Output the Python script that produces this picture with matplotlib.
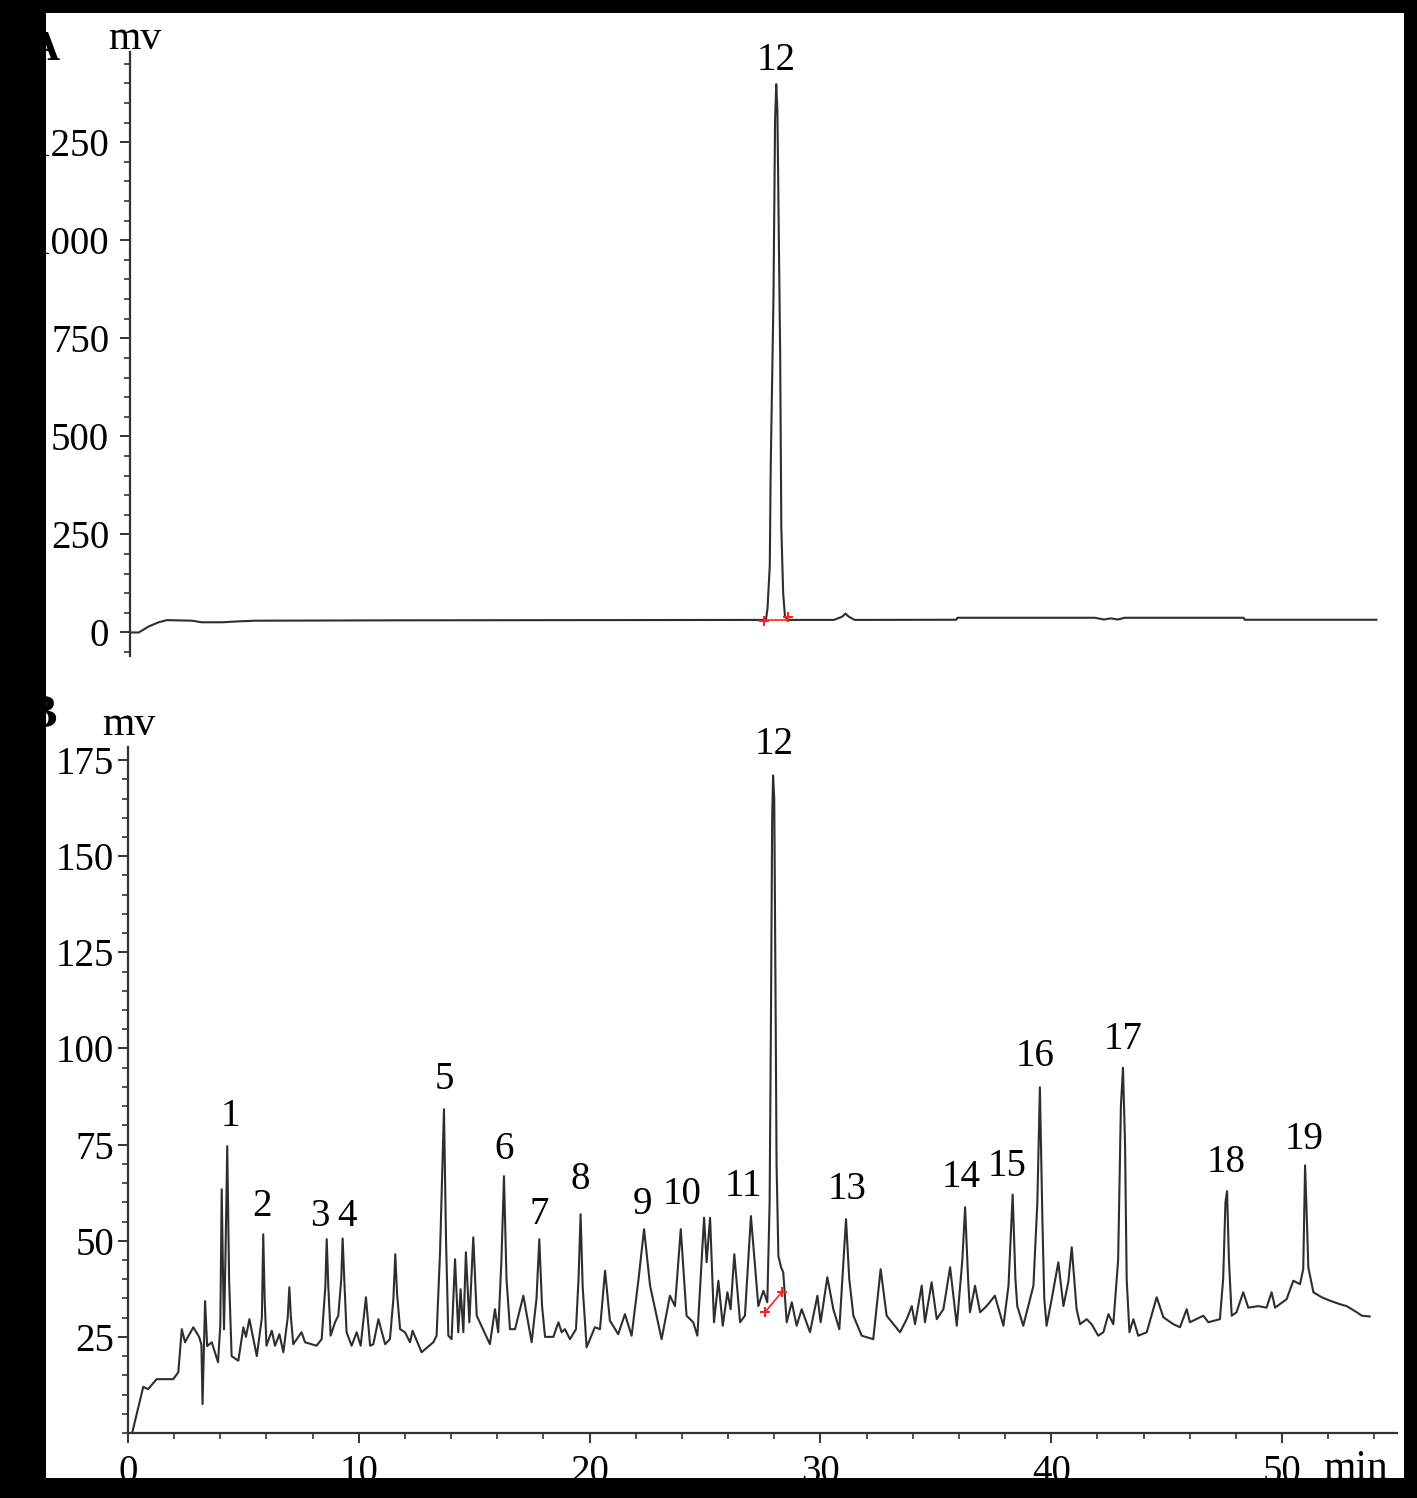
import matplotlib
matplotlib.use('agg')
import matplotlib.pyplot as plt
from matplotlib.patches import Rectangle
from matplotlib.ticker import MultipleLocator

# Chromatogram A (standard), time in min and signal in mV
trace_a_time = [0.0, 0.38, 0.8, 1.24, 1.6, 2.69, 3.1, 4.0, 4.6, 5.4, 11.8,
                27.55, 27.62, 27.72, 27.76, 27.88, 27.95, 28.0, 28.05, 28.17,
                28.22, 28.3, 28.38, 28.5, 30.5, 30.85, 31.0, 31.15, 31.4,
                35.8, 35.85, 41.8, 42.2, 42.5, 42.8, 43.1, 48.25, 48.3, 54.0]
trace_a_mv = [0, 0, 15, 26, 31.5, 30, 26, 26, 28, 30, 31,
              32, 60, 170, 418, 853, 1309, 1398, 1330, 711,
              268, 100, 40, 32, 32, 40, 48, 40, 32,
              32.4, 37.5, 37.5, 33, 36, 33, 37.5, 37.5, 32.4, 32.4]

# Chromatogram B (sample)
trace_b_time = [0.2, 0.66, 0.87, 1.24, 1.96, 2.18, 2.33, 2.47, 2.83, 3.08, 3.18,
                3.23, 3.34, 3.43, 3.63, 3.9, 4.0, 4.06, 4.12, 4.16, 4.22, 4.3,
                4.38, 4.49, 4.78, 5.0, 5.11, 5.26, 5.58, 5.8, 5.86, 5.92, 6.0,
                6.23, 6.37, 6.56, 6.73, 6.92, 6.99, 7.06, 7.16, 7.52, 7.67, 8.17,
                8.39, 8.55, 8.61, 8.68, 8.78, 8.97, 9.11, 9.24, 9.3, 9.37, 9.47,
                9.69, 9.91, 10.08, 10.31, 10.49, 10.63, 10.85, 11.14, 11.35, 11.5,
                11.58, 11.66, 11.79, 12.0, 12.22, 12.33, 12.72, 13.23, 13.37, 13.52,
                13.69, 13.78, 13.88, 14.02, 14.17, 14.31, 14.41, 14.53, 14.64, 14.79,
                14.96, 15.11, 15.68, 15.9, 16.04, 16.18, 16.29, 16.4, 16.55, 16.77,
                17.13, 17.49, 17.7, 17.82, 17.94, 18.07, 18.43, 18.65, 18.79, 18.93,
                19.15, 19.41, 19.52, 19.61, 19.7, 19.87, 20.23, 20.45, 20.67, 20.88,
                21.24, 21.53, 21.82, 22.12, 22.36, 22.62, 23.12, 23.48, 23.7, 23.95,
                24.2, 24.49, 24.67, 24.96, 25.07, 25.22, 25.39, 25.58, 25.77, 25.97,
                26.11, 26.27, 26.52, 26.73, 26.99, 27.31, 27.53, 27.7, 27.8, 27.86,
                27.91, 27.95, 28.0, 28.05, 28.1, 28.18, 28.3, 28.39, 28.54, 28.76,
                28.97, 29.19, 29.55, 29.87, 30.01, 30.3, 30.56, 30.82, 31.0, 31.11,
                31.25, 31.43, 31.79, 32.29, 32.61, 32.87, 33.45, 33.74, 33.96, 34.1,
                34.39, 34.53, 34.82, 35.04, 35.33, 35.62, 35.91, 36.15, 36.27, 36.4,
                36.48, 36.7, 36.92, 37.2, 37.56, 37.93, 38.15, 38.33, 38.45, 38.53,
                38.79, 39.23, 39.4, 39.51, 39.62, 39.7, 39.8, 40.02, 40.31, 40.53,
                40.74, 40.89, 41.1, 41.25, 41.54, 41.75, 42.04, 42.26, 42.48, 42.69,
                42.9, 43.02, 43.11, 43.2, 43.27, 43.39, 43.56, 43.77, 44.14, 44.57,
                44.86, 45.29, 45.58, 45.87, 46.01, 46.59, 46.81, 47.31, 47.45, 47.55,
                47.62, 47.7, 47.82, 48.03, 48.32, 48.54, 48.97, 49.33, 49.55, 49.7,
                50.2, 50.49, 50.78, 50.92, 51.0, 51.08, 51.14, 51.36, 51.72, 52.08,
                52.51, 52.8, 53.24, 53.46, 53.8]
trace_b_mv = [0.5, 12, 11.4, 14, 14, 15.8, 27, 23.6, 27.5, 25, 23,
              7.5, 34.3, 22.6, 23.6, 18.4, 28, 63.4, 40, 27, 45, 74.6,
              40, 20, 18.8, 27.5, 25, 29.6, 20, 30, 51.7, 35, 22.7,
              26.6, 22.7, 25.7, 21, 30, 37.9, 30, 23.1, 26.2, 23.6, 22.7,
              24.4, 38, 50.4, 38, 25.3, 28.8, 30.5, 40, 50.6, 40, 26.2,
              22.7, 26.2, 22.7, 35.3, 22.7, 23.1, 29.6, 23.1, 24.4, 35,
              46.5, 36, 27, 26.2, 23.6, 26.6, 21, 23.6, 25.3, 47,
              84.2, 50, 25.3, 24.4, 45.2, 26.2, 37.4, 26.2, 47, 28.8,
              50.9, 30.5, 23.1, 32.2, 26.2, 45, 66.8, 40, 27, 27,
              35.7, 23.6, 35, 50.4, 33, 25, 25, 28.8, 26.2, 27,
              24.4, 27, 40, 56.9, 38, 22.3, 27.5, 27, 42.2, 29.2,
              25.7, 30.9, 25.3, 40, 53, 38.3, 24.4, 35.7, 33, 53,
              30.5, 28.8, 25.3, 56, 44.4, 56, 28.8, 39.6, 27.9, 36.6,
              32.2, 46.5, 28.8, 30.5, 56.4, 33, 37, 34, 60, 110,
              160, 171, 165, 120, 70, 46, 43, 41.8, 28.8, 34,
              27.9, 32.2, 26.2, 35.7, 28.8, 40.5, 32.2, 27, 45, 55.6,
              40, 30.5, 25.3, 24.4, 42.6, 30.5, 26.2, 29.6, 33, 28.3,
              38.3, 28.8, 39.2, 29.6, 32.2, 43.1, 27.9, 45, 58.7, 40,
              31.4, 38.3, 31.4, 33, 35.7, 27.9, 38.3, 62, 40, 33,
              27.9, 38.3, 60, 89.9, 55, 35, 27.9, 34.8, 44.4, 33,
              39.2, 48.3, 32.2, 28.3, 29.6, 28.3, 25.3, 26.2, 30.9, 28.3,
              45, 85, 95, 75, 40, 26.2, 29.6, 25.3, 26.2, 35.3,
              30.1, 28.3, 27.5, 32.2, 28.8, 30.5, 28.8, 29.6, 40, 60,
              62.9, 45, 30.5, 31.4, 36.6, 32.6, 33, 32.6, 36.6, 32.6,
              34.8, 39.6, 38.7, 42.6, 69.6, 55, 43.1, 36.6, 35.3, 34.4,
              33.5, 33, 31.4, 30.5, 30.3]

# integration baseline marks (red) under peak 12
base_a_time = [27.45, 28.53]
base_a_mv = [28, 40]
base_b_time = [27.6, 28.32]
base_b_mv = [31.4, 36.6]

# peak labels: number, time, height of label centre
peak_names_b = ['1', '2', '3', '4', '5', '6', '7', '8', '9', '10',
                '11', '12', '13', '14', '15', '16', '17', '18', '19']
peak_label_time_b = [4.42, 5.8, 8.3, 9.5, 13.7, 16.3, 17.8, 19.6, 22.3, 24.0,
                     26.65, 28.0, 31.15, 36.1, 38.1, 39.3, 43.1, 47.6, 50.95]
peak_label_mv_b = [82.3, 59, 56.4, 56.4, 92, 73.8, 56.9, 66, 59.5, 62,
                   64, 179, 63.4, 66.5, 69.4, 98, 102.3, 70.4, 76.4]
peak_label_time_a = 28.0
peak_label_mv_a = 1458

W, H = 1417, 1498
FONT = 'Liberation Serif'
FS = 28
LINE_C = '#2e2e2e'


def px_box(left, top, right, bottom):
	# axes rectangle from pixel edges (origin top left)
	return [left / W, 1 - bottom / H, (right - left) / W, (bottom - top) / H]


def style_axis(ax):
	for s in ['top', 'right']:
		ax.spines[s].set_visible(False)
	for s in ['left', 'bottom']:
		ax.spines[s].set_linewidth(1.6)
		ax.spines[s].set_color('#333333')
	ax.tick_params(which='major', direction='out', length=7, width=1.4,
				   color='#333333', labelsize=FS)
	ax.tick_params(which='minor', direction='out', length=4.5, width=1.2,
				   color='#333333')
	for lab in ax.get_xticklabels() + ax.get_yticklabels():
		lab.set_fontfamily(FONT)


def main():
	plt.rcParams['font.family'] = FONT
	fig = plt.figure(figsize=(W / 100, H / 100), dpi=100, facecolor='white')

	# --- panel A
	ax_a = fig.add_axes(px_box(130, 52, 130 + 55 * 23.08, 656))
	ax_a.plot(trace_a_time, trace_a_mv, color=LINE_C, lw=1.5)
	ax_a.plot(base_a_time, [32, 32], color='#ff2020', lw=1.2)
	ax_a.plot(base_a_time, base_a_mv, ls='none', marker='+', ms=7,
			  mew=1.5, color='#ff2020')
	ax_a.set_xlim(0, 55)
	ax_a.set_ylim(-60, 1480)
	ax_a.set_yticks([0, 250, 500, 750, 1000, 1250])
	ax_a.yaxis.set_minor_locator(MultipleLocator(50))
	ax_a.set_xticks([])
	ax_a.spines['bottom'].set_visible(False)
	style_axis(ax_a)
	ax_a.tick_params(axis='y', pad=8)
	ax_a.text(peak_label_time_a, peak_label_mv_a, '12', ha='center',
			  va='center', fontsize=FS, clip_on=False)

	# --- panel B
	ax_b = fig.add_axes(px_box(128, 747, 128 + 55 * 23.08, 1433))
	ax_b.plot(trace_b_time, trace_b_mv, color=LINE_C, lw=1.5)
	ax_b.plot(base_b_time, base_b_mv, color='#ff2020', lw=1.2,
			  marker='+', ms=7, mew=1.5)
	ax_b.set_xlim(0, 55)
	ax_b.set_ylim(0, 178.4)
	ax_b.set_yticks([25, 50, 75, 100, 125, 150, 175])
	ax_b.yaxis.set_minor_locator(MultipleLocator(5))
	ax_b.set_xticks([0, 10, 20, 30, 40, 50])
	ax_b.xaxis.set_minor_locator(MultipleLocator(2))
	style_axis(ax_b)
	ax_b.tick_params(axis='y', pad=3)
	ax_b.tick_params(axis='x', pad=8)
	for name, t, v in zip(peak_names_b, peak_label_time_b, peak_label_mv_b):
		ax_b.text(t, v, name, ha='center', va='center', fontsize=FS,
				  clip_on=False)

	# unit labels and panel letters
	fig.text(135 / W, 1 - 49 / H, 'mv', ha='center', va='baseline', fontsize=FS + 2)
	fig.text(129 / W, 1 - 735 / H, 'mv', ha='center', va='baseline', fontsize=FS + 2)
	fig.text(1356 / W, 1 - 1479 / H, 'min', ha='center', va='baseline', fontsize=FS + 2)
	fig.text(60 / W, 1 - 60 / H, 'A', ha='right', va='baseline', fontsize=30,
			 fontweight='bold')
	fig.text(57 / W, 1 - 727 / H, 'B', ha='right', va='baseline', fontsize=34,
			 fontweight='bold')

	# black frame round the picture, drawn over everything
	frame = [(0, 0, 46 / W, 1), (1404 / W, 0, 1 - 1404 / W, 1),
			 (0, 1 - 13 / H, 1, 13 / H), (0, 0, 1, 20 / H)]
	for x0, y0, w, h in frame:
		fig.add_artist(Rectangle((x0, y0), w, h, transform=fig.transFigure,
								 facecolor='black', edgecolor='none', zorder=20))

	fig.savefig('out.png', dpi=100, facecolor='white')


if __name__ == '__main__':
	main()
